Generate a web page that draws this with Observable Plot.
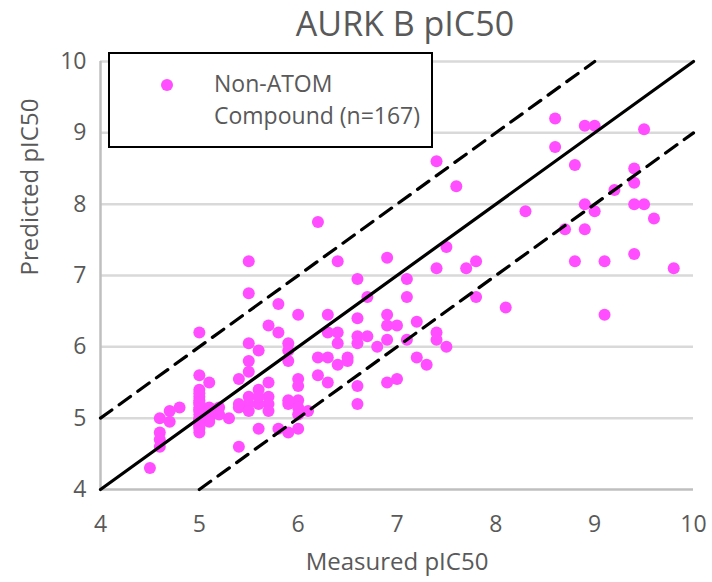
<!DOCTYPE html>
<html>
<head>
<meta charset="utf-8">
<script src="https://cdn.jsdelivr.net/npm/d3@7"></script>
<script src="https://cdn.jsdelivr.net/npm/@observablehq/plot@0.6"></script>
<style>
  body { margin: 0; background: #fff; }
  #wrap { position: relative; width: 712px; height: 582px; font-family: "Open Sans", sans-serif; color: #595959; }
  #title { position: absolute; left: 205px; width: 400px; top: 2px; text-align: center; font-size: 34px; line-height: 42px; }
  #legend { position: absolute; left: 108px; top: 52px; width: 321px; height: 92px; border: 2px solid #000; background: #fff; box-sizing: content-box; }
  #legend .dot { position: absolute; left: 51px; top: 25px; width: 12px; height: 12px; border-radius: 50%; background: #ff4dff; }
  #legend .txt { position: absolute; left: 104px; top: 13px; font-size: 23px; line-height: 32px; }
  svg { position: absolute; left: 0; top: 0; }
</style>
</head>
<body>
<div id="wrap">
  <div id="chart"></div>
  <div id="title"></div>
  <div id="legend"><div class="dot"></div><div class="txt"></div></div>
</div>
<script>
const chartTitle = "AURK B pIC50";
const xLabel = "Measured pIC50";
const yLabel = "Predicted pIC50";
const legendLines = ["Non-ATOM", "Compound (n=167)"];
const xTicks = [4, 5, 6, 7, 8, 9, 10];
const yTicks = [4, 5, 6, 7, 8, 9, 10];
const refOffsets = [0, 1, -1];

const measured = [
  8.6, 8.9, 9.0, 9.5, 8.6, 8.8, 9.4, 9.4, 9.2, 8.9, 9.0, 9.4, 9.5, 9.6, 8.3, 8.7, 8.9, 8.8, 9.1, 9.4, 9.8, 8.1, 9.1,
  7.4, 7.6, 7.5, 6.9, 7.4, 7.7, 7.8, 7.1, 7.1, 7.8, 6.9, 6.9, 7.0, 7.2, 6.9, 7.1, 6.8, 7.4, 7.4, 7.5, 7.2, 7.3, 6.9, 7.0,
  6.2, 5.5, 6.4, 5.5, 5.8, 6.6, 6.7, 6.0, 6.3, 6.6, 5.7, 5.8, 6.3, 6.4, 6.4, 6.6, 6.7, 6.6, 5.9, 5.9, 5.9, 5.6, 5.5, 5.5,
  6.2, 6.3, 6.4, 6.5, 6.5, 6.2, 6.3, 6.6, 6.6, 6.0, 6.0, 5.7, 5.6, 5.7, 5.7, 5.7, 5.6, 5.9, 6.0, 6.0, 6.0, 6.1,
  5.6, 5.8, 5.9, 6.0, 5.0, 5.4, 5.5, 5.0, 5.1, 5.2, 5.1, 5.3, 5.4, 5.5, 5.5, 5.4, 4.8, 4.7, 4.6, 4.7, 4.6, 4.6, 4.6, 4.5, 5.4,
  5.0, 5.0, 5.0, 5.0, 5.0, 5.0, 5.0, 5.0, 5.0, 5.0, 5.0, 5.0, 5.1, 5.1, 5.1,
  5.0, 5.0, 5.0, 5.1, 5.2, 5.5, 5.6, 5.0, 5.0, 5.9
];
const predicted = [
  9.2, 9.1, 9.1, 9.05, 8.8, 8.55, 8.5, 8.3, 8.2, 8.0, 7.9, 8.0, 8.0, 7.8, 7.9, 7.65, 7.65, 7.2, 7.2, 7.3, 7.1, 6.55, 6.45,
  8.6, 8.25, 7.4, 7.25, 7.1, 7.1, 7.2, 6.95, 6.7, 6.7, 6.45, 6.3, 6.3, 6.35, 6.1, 6.1, 6.0, 6.2, 6.1, 6.0, 5.85, 5.75, 5.5, 5.55,
  7.75, 7.2, 7.2, 6.75, 6.6, 6.95, 6.7, 6.45, 6.45, 6.4, 6.3, 6.2, 6.2, 6.2, 6.05, 6.15, 6.15, 6.05, 6.05, 5.95, 5.8, 5.95, 6.05, 5.8,
  5.85, 5.85, 5.75, 5.85, 5.8, 5.6, 5.5, 5.45, 5.2, 5.55, 5.45, 5.5, 5.4, 5.3, 5.2, 5.1, 5.2, 5.2, 5.25, 5.15, 5.05, 5.1,
  4.85, 4.85, 4.8, 4.85, 6.2, 5.55, 5.65, 5.6, 5.5, 5.15, 5.0, 5.0, 5.15, 5.2, 5.1, 5.2, 5.15, 5.1, 5.0, 4.95, 4.8, 4.7, 4.6, 4.3, 4.6,
  5.4, 5.3, 5.25, 5.2, 5.15, 5.1, 5.05, 5.0, 4.95, 4.9, 4.85, 4.8, 5.15, 5.05, 4.95,
  5.35, 5.12, 4.98, 5.1, 5.05, 5.3, 5.3, 5.22, 4.88, 5.25
];

const data = measured.map((m, i) => ({measured: m, predicted: predicted[i]}));
const lo = xTicks[0], hi = xTicks[xTicks.length - 1];
const segs = refOffsets.flatMap(o => {
  const x0 = Math.max(lo, lo - o), x1 = Math.min(hi, hi - o);
  return [{o, x: x0, y: x0 + o}, {o, x: x1, y: x1 + o}];
});

const chart = Plot.plot({
  width: 712,
  height: 582,
  marginLeft: 100,
  marginRight: 19,
  marginTop: 61,
  marginBottom: 93,
  style: {fontFamily: "Open Sans, sans-serif", fontSize: "23px", color: "#595959", background: "transparent", overflow: "visible"},
  x: {domain: [lo, hi], ticks: xTicks, tickSize: 0, tickPadding: 26, label: null, tickFormat: d => String(d)},
  y: {domain: [yTicks[0], yTicks[yTicks.length - 1]], ticks: yTicks, tickSize: 0, tickPadding: 14, label: null, tickFormat: d => String(d)},
  marks: [
    Plot.ruleY(yTicks.slice(1), {stroke: "#d9d9d9", strokeWidth: 2.5}),
    Plot.ruleY([yTicks[0]], {stroke: "#bfbfbf", strokeWidth: 2.5}),
    Plot.ruleX([lo], {stroke: "#bfbfbf", strokeWidth: 2.5}),
    Plot.dot(data, {x: "measured", y: "predicted", r: 6, fill: "#ff4dff", stroke: null}),
    Plot.line(segs.filter(d => d.o === 0), {x: "x", y: "y", z: "o", stroke: "#000", strokeWidth: 3.2}),
    Plot.line(segs.filter(d => d.o !== 0), {x: "x", y: "y", z: "o", stroke: "#000", strokeWidth: 3.2, strokeDasharray: "14,9"}),
    Plot.text([xLabel], {frameAnchor: "bottom", dy: 80, fontSize: 24, fill: "#595959"}),
    Plot.text([yLabel], {frameAnchor: "left", dx: -70, rotate: -90, fontSize: 24, fill: "#595959"})
  ]
});
document.getElementById("chart").appendChild(chart);
document.getElementById("title").textContent = chartTitle;
document.querySelector("#legend .txt").innerHTML = legendLines.join("<br>");
</script>
</body>
</html>
